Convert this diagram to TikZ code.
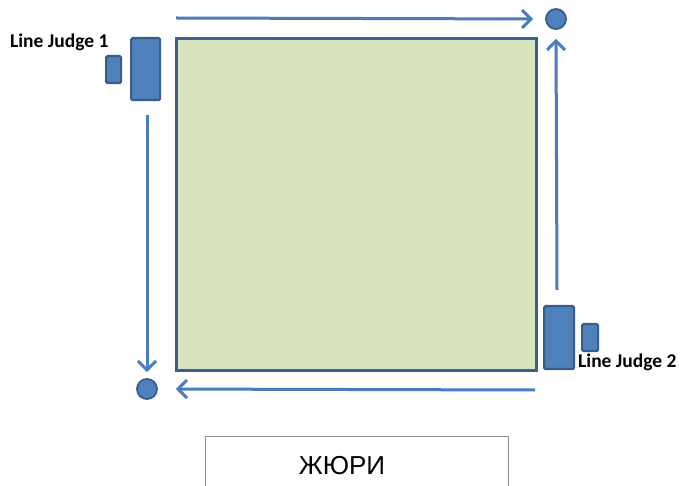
\documentclass[tikz,border=0pt]{standalone}
\usepackage{fontspec}
\setmainfont{Liberation Sans}
\newfontfamily\calib{Carlito}
\usetikzlibrary{arrows.meta}
\definecolor{fieldfill}{HTML}{D7E4BD}
\definecolor{fieldline}{HTML}{3C5F8E}
\definecolor{arrowblue}{HTML}{4A7EBB}
\definecolor{judgefill}{HTML}{4F81BD}
\definecolor{judgeline}{HTML}{385D8A}
\definecolor{jurygray}{HTML}{8C8C8C}
\begin{document}
\begin{tikzpicture}[x=1pt,y=-1pt,
  judge/.style={draw=judgeline,fill=judgefill,line width=2.2pt,rounded corners=1.5pt,inner sep=0pt,anchor=north west},
  spot/.style={circle,draw=judgeline,fill=judgefill,line width=1.8pt,minimum size=20pt,inner sep=0pt},
  flow/.style={draw=arrowblue,line width=3pt,-{Straight Barb[length=9pt,width=18pt,line width=3pt]}},
  lbl/.style={font=\calib\bfseries\fontsize{19.5}{22}\selectfont,inner sep=0pt}]
\useasboundingbox (0,0) rectangle (694,486);
% field
\node[draw=fieldline,fill=fieldfill,line width=3pt,minimum width=360pt,minimum height=332pt,inner sep=0pt,anchor=north west] (field) at (175,37) {};
% spots
\node[spot] (tr) at (556,19) {};
\node[spot] (bl) at (147,389) {};
% judges
\node[judge,minimum width=29pt,minimum height=62pt] (j1big) at (130,37) {};
\node[judge,minimum width=15pt,minimum height=27pt] (j1small) at (105,55) {};
\node[judge,minimum width=30pt,minimum height=63pt] (j2big) at (543,305) {};
\node[judge,minimum width=16pt,minimum height=27pt] (j2small) at (581,323) {};
\node[lbl,anchor=base west] (l1) at (10,48) {Line Judge 1};
\node[lbl,anchor=base west] (l2) at (578,368) {Line Judge 2};
% arrow start points
\coordinate (tstart) at (176,18);
\coordinate (rstart) at (557,290);
\coordinate (bstart) at (535,390);
\coordinate (lstart) at (147,115);
\draw[flow,shorten >=12pt] (tstart) -- (tr.west);
\draw[flow,shorten >=9pt] (rstart) -- (tr.south);
\draw[flow,shorten >=18pt] (bstart) -- (bl.east);
\draw[flow,shorten >=6pt] (lstart) -- (bl.north);
% jury
\coordinate (jbl) at (205,486);
\coordinate (jbr) at (508,486);
\draw[jurygray,line width=1pt] (jbl) -- (205,437) -- (508,437) -- (jbr);
\node[font=\fontsize{26}{30}\selectfont,inner sep=0pt] (jury) at (342,466) {ЖЮРИ};
\end{tikzpicture}
\end{document}
